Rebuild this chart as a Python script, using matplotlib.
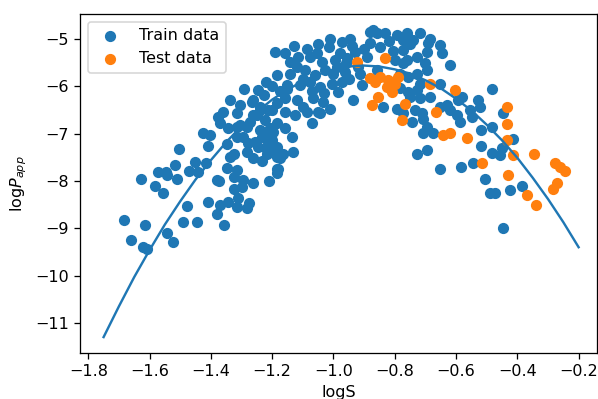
import matplotlib
matplotlib.use('Agg')
import matplotlib.pyplot as plt

# training set (logS, logPapp)
train_logS = [
    -1.503, -1.408, -1.629, -1.572, -1.546, -1.542, -1.516, -1.510, -1.581, -1.556,
    -1.452, -1.417, -1.470, -1.441, -1.479, -1.410, -1.683, -1.615, -1.660, -1.622,
    -1.607, -1.544, -1.523, -1.490, -1.444, -1.381, -1.372, -1.348, -1.316, -1.326,
    -1.294, -1.326, -1.299, -1.261, -1.209, -1.185, -1.370, -1.381, -1.343, -1.310,
    -1.316, -1.275, -1.281, -1.358, -1.324, -1.283, -1.261, -1.234, -1.218, -1.185,
    -1.191, -1.220, -1.185, -1.292, -1.245, -1.338, -1.261, -1.316, -1.359, -1.376,
    -1.370, -1.343, -1.425, -1.403, -1.348, -1.316, -1.294, -1.316, -1.283, -1.261,
    -1.240, -1.223, -1.201, -1.207, -1.234, -1.245, -1.213, -1.185, -1.338,
    -1.227, -1.305, -1.267, -1.240, -1.212, -1.185, -1.305, -1.272, -1.240, -1.207,
    -1.185, -1.256, -1.218, -1.185,
    -1.158, -1.087, -1.011, -0.973, -0.946, -1.016, -0.978, -0.881, -0.859, -0.832,
    -0.793, -0.772, -0.881, -0.848, -1.142, -1.115, -1.076, -1.055, -1.038, -0.995,
    -0.957, -0.891, -0.799, -0.772, -1.142, -1.120, -1.093, -1.060, -1.027, -1.000,
    -0.962, -0.913, -0.859, -0.783, -0.908, -0.935, -0.837, -1.153, -1.109, -1.076,
    -1.044, -1.006, -0.973, -1.158, -1.120, -1.098, -1.066, -1.033, -1.011, -1.158,
    -1.125, -1.087, -1.049, -0.930,
    -0.985, -0.793, -0.772, -0.745, -0.750, -0.718, -0.685, -0.734, -0.712, -0.707,
    -0.696, -0.674, -0.707, -0.652, -0.630, -0.598, -0.587, -0.728, -0.696, -0.652,
    -0.585, -0.581, -1.071, -1.044, -1.196, -1.201, -1.158, -1.136, -1.207, -1.185,
    -1.164, -1.131, -1.174, -1.180, -0.620,
    -0.870, -0.718, -0.685, -0.652, -0.646, -0.620, -0.690, -0.761, -0.739, -0.696,
    -0.728, -0.772, -0.761, -0.783, -0.756, -0.728, -0.696, -0.718, -0.652, -0.592,
    -0.728, -0.756,
    -0.484, -0.554, -0.548, -0.527, -0.522, -0.446, -0.484, -0.518, -0.413, -0.451,
    -0.518, -0.484, -0.456, -0.543, -0.505, -0.489, -0.473, -0.424, -0.386, -0.446,
    # denser core
    -0.950, -0.920, -0.900, -0.820, -0.805, -0.940, -1.050, -1.130, -1.100, -1.030,
    -1.200, -1.250, -1.280, -1.175, -1.150, -0.750, -0.700, -0.990, -1.070, -0.960,
]
train_logP = [
    -7.33, -7.26, -7.95, -7.82, -7.81, -7.88, -7.66, -7.95, -8.10, -8.26,
    -7.59, -7.61, -7.79, -7.81, -8.52, -8.44, -8.83, -8.94, -9.25, -9.39,
    -9.44, -9.11, -9.29, -8.86, -8.87, -7.98, -8.00, -7.73, -7.77, -7.91,
    -7.98, -8.16, -8.12, -8.04, -8.01, -7.75, -8.51, -8.69, -8.44, -8.37,
    -8.55, -8.47, -8.58, -8.94, -7.42, -7.38, -7.52, -7.57, -7.42, -7.49,
    -5.27, -5.90, -5.76, -6.06, -6.08, -6.29, -6.29, -6.57, -6.54, -6.64,
    -6.78, -6.89, -6.98, -7.03, -7.21, -7.07, -7.07, -6.85, -6.85, -6.61,
    -6.50, -6.71, -6.50, -6.96, -7.07, -7.28, -7.21, -7.84, -7.49,
    -6.18, -6.40, -6.33, -6.43, -6.50, -6.36, -6.82, -6.75, -6.92, -6.89,
    -6.78, -7.17, -7.35, -7.28,
    -5.30, -5.20, -4.99, -5.06, -4.99, -5.16, -5.30, -4.85, -4.88, -4.88,
    -4.92, -5.02, -5.09, -5.16, -5.48, -5.37, -5.37, -5.30, -5.48, -5.44,
    -5.41, -5.37, -5.44, -5.51, -5.73, -5.59, -5.66, -5.76, -5.66, -5.73,
    -5.69, -5.73, -5.66, -6.04, -5.97, -6.29, -6.43, -5.97, -5.97, -5.90,
    -6.01, -5.94, -5.90, -6.25, -6.29, -6.43, -6.25, -6.33, -6.47, -6.54,
    -6.61, -6.54, -6.54, -5.27,
    -6.11, -6.47, -6.57, -6.75, -6.22, -6.25, -6.22, -6.50, -6.57, -6.68,
    -6.85, -6.99, -6.99, -6.43, -6.40, -6.61, -6.75, -7.42, -7.35, -7.75,
    -7.71, -6.22, -6.78, -6.57, -6.96, -7.14, -6.89, -7.07, -7.38, -7.45,
    -7.42, -7.38, -7.52, -7.75, -6.50,
    -4.80, -4.88, -4.99, -5.13, -5.30, -5.55, -5.09, -4.88, -5.02, -5.27,
    -5.37, -5.23, -5.44, -5.73, -5.80, -5.73, -5.66, -5.94, -5.94, -6.29,
    -6.08, -6.11,
    -6.06, -6.50, -6.64, -6.29, -6.43, -6.56, -6.85, -6.92, -7.12, -7.31,
    -7.26, -7.40, -7.45, -7.62, -7.95, -8.26, -8.26, -8.19, -8.10, -8.99,
    -5.85, -5.60, -5.20, -5.05, -5.25, -5.15, -5.10, -5.15, -5.85, -6.15,
    -6.00, -6.60, -7.20, -6.10, -6.05, -5.10, -5.50, -5.60, -6.10, -5.50,
]

# test set
test_logS = [
    -0.924, -0.832, -0.881, -0.848, -0.821, -0.788, -0.826, -0.810, -0.853, -0.875,
    -0.766, -0.777, -0.665, -0.641, -0.620, -0.565, -0.603, -0.685, -0.435, -0.435,
    -0.435, -0.413, -0.344, -0.516, -0.429, -0.277, -0.261, -0.244, -0.282, -0.271,
    -0.369, -0.340, -0.864, -0.800,
]
test_logP = [
    -5.48, -5.41, -5.83, -5.80, -5.87, -5.80, -6.01, -6.11, -6.22, -6.40,
    -6.37, -6.71, -6.54, -7.03, -6.98, -7.10, -6.08, -5.94, -6.44, -6.80,
    -7.14, -7.45, -7.42, -7.62, -7.88, -7.63, -7.70, -7.79, -8.16, -8.05,
    -8.30, -8.51, -5.90, -5.95,
]

# fitted curve, sampled along logS
fit_logS = [-1.75, -1.70, -1.65, -1.60, -1.55, -1.50, -1.45, -1.40, -1.35, -1.30,
            -1.25, -1.20, -1.15, -1.10, -1.05, -1.00, -0.95, -0.90, -0.85, -0.80,
            -0.75, -0.70, -0.65, -0.60, -0.55, -0.50, -0.45, -0.40, -0.35, -0.30,
            -0.25, -0.20]
fit_logP = [-11.30, -10.65, -10.03, -9.46, -8.92, -8.43, -7.97, -7.56, -7.18, -6.84,
            -6.54, -6.28, -6.07, -5.89, -5.75, -5.64, -5.58, -5.56, -5.58, -5.64,
            -5.73, -5.87, -6.04, -6.26, -6.51, -6.81, -7.14, -7.51, -7.93, -8.38,
            -8.87, -9.40]

fig = plt.figure(figsize=(598 / 115, 399 / 115), dpi=115)
ax = fig.add_axes([80 / 598, 46.3 / 399, 517 / 598, 338.7 / 399])

ax.scatter(train_logS, train_logP, color='C0', label='Train data')
ax.scatter(test_logS, test_logP, color='C1', label='Test data')
ax.plot(fit_logS, fit_logP, color='C0')

ax.set_xlim(-1.827, -0.14)
ax.set_ylim(-11.63, -4.47)
ax.set_xlabel('logS')
ax.set_ylabel(r'log$P_{app}$')
ax.legend(loc='upper left')

fig.savefig('out.png', dpi=115)
